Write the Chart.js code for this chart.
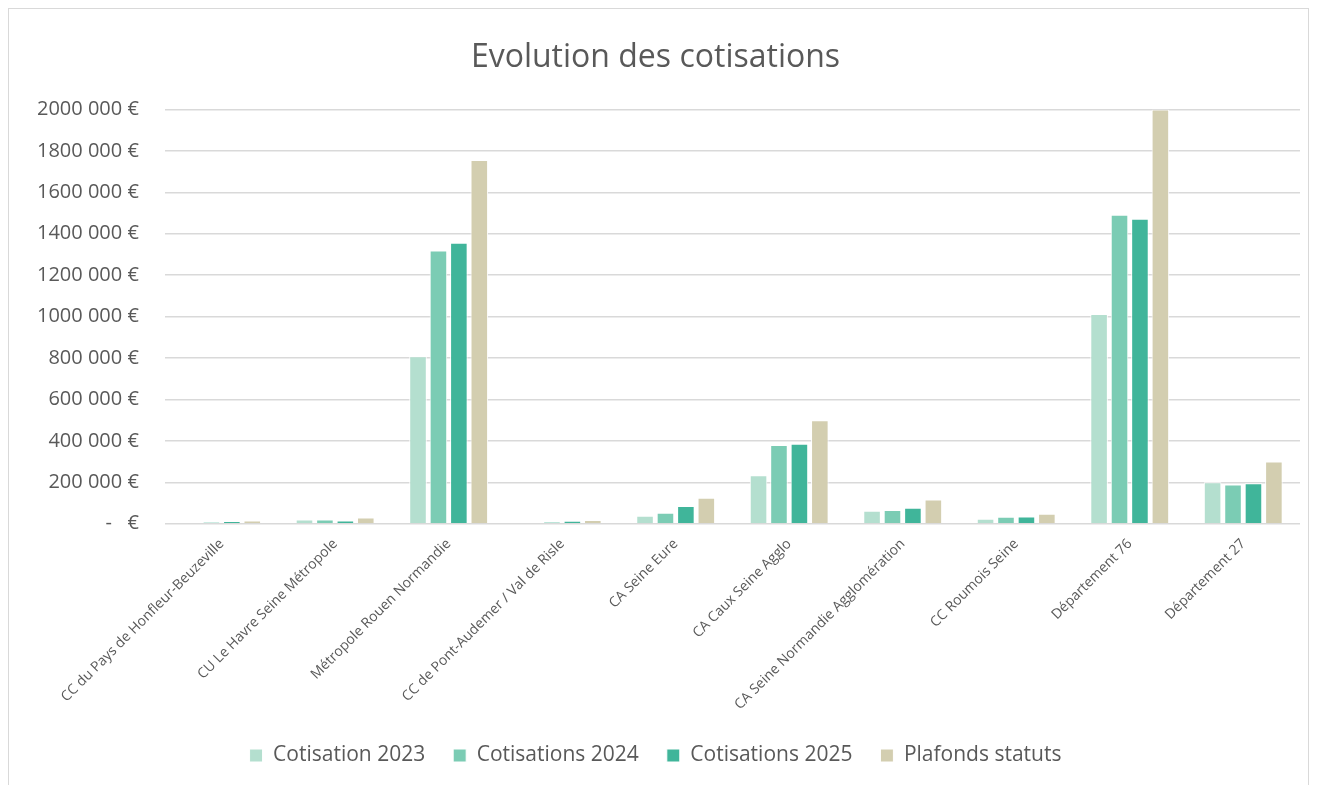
<!DOCTYPE html>
<html>
<head>
<meta charset="utf-8">
<script src="https://cdn.jsdelivr.net/npm/chart.js@4"></script>
<style>
  body { margin: 0; background: #fff; }
  #wrap { position: absolute; left: 8px; top: 8px; width: 1301px; height: 790px; border: 1px solid #d9d9d9; box-sizing: border-box; }
</style>
</head>
<body>
<div id="wrap"><canvas id="chart"></canvas></div>
<script>
const categories = [
  'CC du Pays de Honfleur-Beuzeville',
  'CU Le Havre Seine Métropole',
  'Métropole Rouen Normandie',
  'CC de Pont-Audemer / Val de Risle',
  'CA Seine Eure',
  'CA Caux Seine Agglo',
  'CA Seine Normandie Agglomération',
  'CC Roumois Seine',
  'Département 76',
  'Département 27'
];
const cotisation2023 = [3000, 20000, 808000, 3000, 38000, 234000, 62000, 24000, 1012000, 200000];
const cotisations2024 = [7000, 20000, 1319000, 8000, 53000, 380000, 66000, 34000, 1492000, 189000];
const cotisations2025 = [12000, 16000, 1356000, 14000, 85000, 386000, 77000, 35000, 1472000, 195000];
const plafondsStatuts = [15000, 30000, 1756000, 18000, 125000, 500000, 117000, 48000, 2000000, 300000];

const font = "'Open Sans', 'Liberation Sans', sans-serif";
const grey = '#595959';

function fmtEuro(v) {
  if (v === 0) return '-   €';
  return Math.round(v / 1000) + ' 000 €';
}

const ctx = document.getElementById('chart').getContext('2d');
new Chart(ctx, {
  type: 'bar',
  data: {
    labels: categories,
    datasets: [
      { label: 'Cotisation 2023', data: cotisation2023, backgroundColor: '#b4dfcf' },
      { label: 'Cotisations 2024', data: cotisations2024, backgroundColor: '#7bccb4' },
      { label: 'Cotisations 2025', data: cotisations2025, backgroundColor: '#40b59a' },
      { label: 'Plafonds statuts', data: plafondsStatuts, backgroundColor: '#d3ceb0' }
    ]
  },
  options: {
    responsive: true,
    maintainAspectRatio: false,
    animation: false,
    datasets: {
      bar: { categoryPercentage: 0.72, barPercentage: 0.86, borderColor: '#ffffff', borderWidth: 1 }
    },
    layout: { padding: { left: 2, right: 8, top: 14, bottom: 21 } },
    plugins: {
      title: {
        display: true,
        text: 'Evolution des cotisations',
        color: grey,
        font: { family: font, size: 32, weight: 'normal' },
        padding: { top: 16, bottom: 32 }
      },
      legend: {
        position: 'bottom',
        labels: {
          color: grey,
          font: { family: font, size: 21 },
          boxWidth: 13,
          boxHeight: 13,
          padding: 28
        }
      },
      tooltip: { enabled: false }
    },
    scales: {
      x: {
        grid: { display: false },
        border: { display: false },
        ticks: {
          color: grey,
          font: { family: font, size: 14 },
          padding: 4,
          minRotation: 45,
          maxRotation: 45,
          autoSkip: false
        }
      },
      y: {
        min: 0,
        max: 2000000,
        border: { display: false },
        grid: { color: '#d9d9d9', lineWidth: 1.5, drawTicks: false },
        ticks: {
          stepSize: 200000,
          color: grey,
          font: { family: font, size: 20 },
          padding: 26,
          callback: v => fmtEuro(v)
        }
      }
    }
  }
});
</script>
</body>
</html>
